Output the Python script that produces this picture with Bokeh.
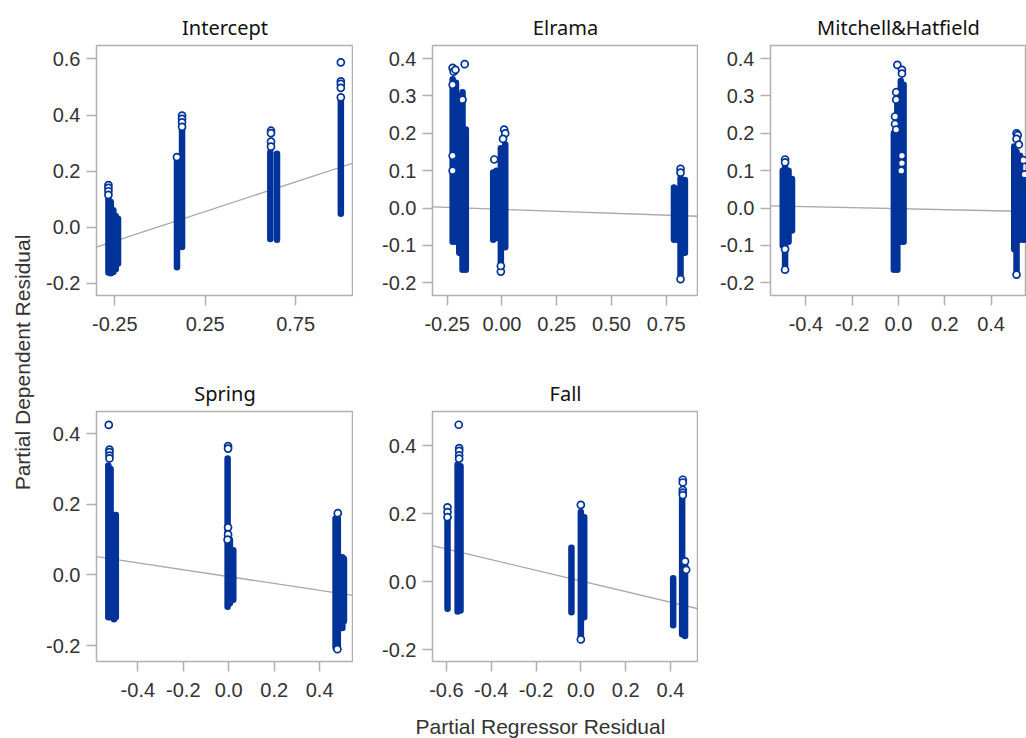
import numpy as np
from bokeh.plotting import figure
from bokeh.layouts import row, column
from bokeh.models import Range1d, FixedTicker
from bokeh.core.properties import value
from bokeh.embed import file_html
from bokeh.resources import INLINE

# ---------------- data ----------------
# Each panel: dense vertical strands of overlapping points (x, low end, high end),
# individually visible points, and the fitted partial-regression line.

intercept_strand_x = [-0.285, -0.272, -0.258, -0.245, -0.232, 0.094, 0.122, 0.610, 0.647, 1.000]
intercept_strand_lo = [-0.162, -0.165, -0.160, -0.150, -0.130, -0.143, -0.071, -0.042, -0.045, 0.048]
intercept_strand_hi = [0.100, 0.090, 0.060, 0.040, 0.030, 0.244, 0.350, 0.267, 0.262, 0.452]
intercept_pts_x = [-0.285, -0.285, -0.285, -0.285, 0.122, 0.122, 0.122, 0.122, 0.094, 0.614, 0.614, 0.614, 0.614, 1.000, 1.000, 1.000, 1.000, 1.000]
intercept_pts_y = [0.150, 0.140, 0.128, 0.115, 0.398, 0.386, 0.374, 0.358, 0.250, 0.344, 0.335, 0.305, 0.287, 0.588, 0.520, 0.511, 0.497, 0.463]
intercept_fit_x = [-0.351, 1.070]
intercept_fit_y = [-0.071, 0.229]
intercept_xticks = [-0.25, 0.25, 0.75]
intercept_xlabels = ["-0.25", "0.25", "0.75"]
intercept_yticks = [-0.2, 0.0, 0.2, 0.4, 0.6]
intercept_ylabels = ["-0.2", "0.0", "0.2", "0.4", "0.6"]

elrama_strand_x = [-0.225, -0.210, -0.195, -0.180, -0.165, -0.040, -0.025, -0.005, 0.015, 0.785, 0.800, 0.815, 0.835]
elrama_strand_lo = [-0.090, -0.090, -0.120, -0.165, -0.165, -0.085, -0.080, -0.150, -0.105, -0.085, -0.085, -0.180, -0.120]
elrama_strand_hi = [0.345, 0.335, 0.300, 0.310, 0.210, 0.095, 0.100, 0.160, 0.170, 0.055, 0.050, 0.080, 0.075]
elrama_pts_x = [-0.225, -0.220, -0.212, -0.170, -0.225, -0.180, -0.225, -0.225, -0.035, 0.010, 0.015, 0.005, -0.005, -0.005, 0.815, 0.815, 0.815]
elrama_pts_y = [0.375, 0.365, 0.370, 0.385, 0.330, 0.290, 0.140, 0.100, 0.130, 0.210, 0.200, 0.185, -0.170, -0.155, 0.105, 0.095, -0.190]
elrama_fit_x = [-0.317, 0.897]
elrama_fit_y = [0.003, -0.022]
elrama_xticks = [-0.25, 0.0, 0.25, 0.5, 0.75]
elrama_xlabels = ["-0.25", "0.00", "0.25", "0.50", "0.75"]
elrama_yticks = [-0.2, -0.1, 0.0, 0.1, 0.2, 0.3, 0.4]
elrama_ylabels = ["-0.2", "-0.1", "0.0", "0.1", "0.2", "0.3", "0.4"]

mitchell_strand_x = [-0.500, -0.490, -0.475, -0.460, -0.020, -0.005, 0.010, 0.022, 0.500, 0.510, 0.525, 0.540]
mitchell_strand_lo = [-0.100, -0.160, -0.090, -0.060, -0.165, -0.165, -0.090, -0.090, -0.110, -0.175, -0.085, -0.085]
mitchell_strand_hi = [0.100, 0.110, 0.100, 0.078, 0.200, 0.300, 0.340, 0.330, 0.165, 0.150, 0.140, 0.090]
mitchell_pts_x = [-0.490, -0.490, -0.490, -0.490, -0.005, 0.015, 0.015, -0.010, -0.010, -0.015, -0.015, -0.010, 0.015, 0.015, 0.012, 0.510, 0.515, 0.510, 0.520, 0.540, 0.545, 0.510]
mitchell_pts_y = [0.130, 0.122, -0.165, -0.110, 0.383, 0.370, 0.360, 0.310, 0.290, 0.245, 0.225, 0.210, 0.140, 0.120, 0.100, 0.200, 0.195, 0.185, 0.170, 0.128, 0.090, -0.178]
mitchell_fit_x = [-0.553, 0.553]
mitchell_fit_y = [0.006, -0.009]
mitchell_xticks = [-0.4, -0.2, 0.0, 0.2, 0.4]
mitchell_xlabels = ["-0.4", "-0.2", "0.0", "0.2", "0.4"]
mitchell_yticks = [-0.2, -0.1, 0.0, 0.1, 0.2, 0.3, 0.4]
mitchell_ylabels = ["-0.2", "-0.1", "0.0", "0.1", "0.2", "0.3", "0.4"]

spring_strand_x = [-0.530, -0.520, -0.505, -0.497, -0.005, 0.005, 0.020, 0.470, 0.480, 0.500, 0.507]
spring_strand_lo = [-0.120, -0.120, -0.125, -0.120, -0.090, -0.080, -0.070, -0.205, -0.210, -0.150, -0.130]
spring_strand_hi = [0.310, 0.300, 0.170, 0.170, 0.330, 0.100, 0.070, 0.160, 0.160, 0.050, 0.045]
spring_pts_x = [-0.528, -0.525, -0.525, -0.525, -0.525, -0.003, -0.003, -0.003, -0.003, -0.005, 0.480, 0.478]
spring_pts_y = [0.425, 0.355, 0.348, 0.338, 0.330, 0.365, 0.358, 0.135, 0.115, 0.100, 0.175, -0.210]
spring_fit_x = [-0.582, 0.549]
spring_fit_y = [0.052, -0.058]
spring_xticks = [-0.4, -0.2, 0.0, 0.2, 0.4]
spring_xlabels = ["-0.4", "-0.2", "0.0", "0.2", "0.4"]
spring_yticks = [-0.2, 0.0, 0.2, 0.4]
spring_ylabels = ["-0.2", "0.0", "0.2", "0.4"]

fall_strand_x = [-0.595, -0.550, -0.537, -0.042, 0.000, 0.015, 0.412, 0.452, 0.465]
fall_strand_lo = [-0.080, -0.088, -0.085, -0.090, -0.168, -0.105, -0.128, -0.155, -0.160]
fall_strand_hi = [0.205, 0.345, 0.340, 0.100, 0.205, 0.190, 0.010, 0.245, 0.050]
fall_pts_x = [-0.595, -0.595, -0.595, -0.545, -0.543, -0.543, -0.543, -0.543, 0.000, 0.000, 0.455, 0.455, 0.455, 0.455, 0.455, 0.465, 0.470]
fall_pts_y = [0.219, 0.205, 0.190, 0.462, 0.393, 0.385, 0.372, 0.362, 0.226, -0.170, 0.300, 0.292, 0.270, 0.262, 0.255, 0.060, 0.035]
fall_fit_x = [-0.662, 0.525]
fall_fit_y = [0.106, -0.080]
fall_xticks = [-0.6, -0.4, -0.2, 0.0, 0.2, 0.4]
fall_xlabels = ["-0.6", "-0.4", "-0.2", "0.0", "0.2", "0.4"]
fall_yticks = [-0.2, 0.0, 0.2, 0.4]
fall_ylabels = ["-0.2", "0.0", "0.2", "0.4"]

panel_titles = ["Intercept", "Elrama", "Mitchell&Hatfield", "Spring", "Fall"]
y_axis_title = "Partial Dependent Residual"
x_axis_title = "Partial Regressor Residual"

# ---------------- styling ----------------
BLUE = "#00339a"
FIT = "#a8a8a8"
FRAME = "#b0b0b0"
TICKTXT = "#333333"


def panel(title, xr, yr, sx, slo, shi, px, py, fx, fy, xt, xl, yt, yl,
          left, fw, right, top, fh, bottom):
    p = figure(width=left + fw + right, height=top + fh + bottom,
               x_range=Range1d(*xr), y_range=Range1d(*yr),
               output_backend="svg", toolbar_location=None,
               min_border_left=left, min_border_right=right,
               min_border_top=top, min_border_bottom=bottom, title=title)
    p.line(fx, fy, line_color=FIT, line_width=1.3)
    p.segment(x0=sx, y0=slo, x1=sx, y1=shi, line_color=BLUE, line_width=6.5, line_cap="round")
    p.scatter(px, py, marker="circle", size=7, fill_color="white", fill_alpha=1.0,
              line_color=BLUE, line_width=1.7)
    p.xaxis.ticker = FixedTicker(ticks=xt)
    p.xaxis.major_label_overrides = dict(zip(xt, xl))
    p.yaxis.ticker = FixedTicker(ticks=yt)
    p.yaxis.major_label_overrides = dict(zip(yt, yl))
    for ax in (p.xaxis[0], p.yaxis[0]):
        ax.axis_line_color = None
        ax.major_tick_line_color = FRAME
        ax.major_tick_line_width = 1.5
        ax.major_tick_out = 10
        ax.major_tick_in = 0
        ax.minor_tick_line_color = None
        ax.major_label_text_font = "Liberation Sans"
        ax.major_label_text_font_size = "20px"
        ax.major_label_text_color = TICKTXT
    p.xaxis.major_label_standoff = 11
    p.yaxis.major_label_standoff = 6
    p.grid.visible = False
    p.outline_line_color = FRAME
    p.outline_line_width = 1.5
    p.background_fill_color = "white"
    p.border_fill_color = "white"
    p.title.align = "center"
    p.title.text_font = "Noto Sans"
    p.title.text_font_size = "20px"
    p.title.text_font_style = "normal"
    p.title.text_color = "#111111"
    return p


p1 = panel(panel_titles[0], (-0.351, 1.070), (-0.244, 0.648),
           intercept_strand_x, intercept_strand_lo, intercept_strand_hi,
           intercept_pts_x, intercept_pts_y, intercept_fit_x, intercept_fit_y,
           intercept_xticks, intercept_xlabels, intercept_yticks, intercept_ylabels,
           56, 257, 0, 45, 250, 50)
p2 = panel(panel_titles[1], (-0.317, 0.897), (-0.234, 0.435),
           elrama_strand_x, elrama_strand_lo, elrama_strand_hi,
           elrama_pts_x, elrama_pts_y, elrama_fit_x, elrama_fit_y,
           elrama_xticks, elrama_xlabels, elrama_yticks, elrama_ylabels,
           79, 266, 0, 45, 250, 50)
p3 = panel(panel_titles[2], (-0.553, 0.553), (-0.234, 0.435),
           mitchell_strand_x, mitchell_strand_lo, mitchell_strand_hi,
           mitchell_pts_x, mitchell_pts_y, mitchell_fit_x, mitchell_fit_y,
           mitchell_xticks, mitchell_xlabels, mitchell_yticks, mitchell_ylabels,
           72, 256, 0, 45, 250, 50)
p4 = panel(panel_titles[3], (-0.582, 0.549), (-0.245, 0.463),
           spring_strand_x, spring_strand_lo, spring_strand_hi,
           spring_pts_x, spring_pts_y, spring_fit_x, spring_fit_y,
           spring_xticks, spring_xlabels, spring_yticks, spring_ylabels,
           56, 257, 0, 66, 250, 45)
p5 = panel(panel_titles[4], (-0.662, 0.525), (-0.235, 0.501),
           fall_strand_x, fall_strand_lo, fall_strand_hi,
           fall_pts_x, fall_pts_y, fall_fit_x, fall_fit_y,
           fall_xticks, fall_xlabels, fall_yticks, fall_ylabels,
           79, 266, 0, 66, 250, 45)


def label_fig(w, h):
    f = figure(width=w, height=h, x_range=Range1d(0, w), y_range=Range1d(0, h),
               output_backend="svg", toolbar_location=None, min_border=0,
               x_axis_location=None, y_axis_location=None)
    f.grid.visible = False
    f.outline_line_color = None
    f.background_fill_color = "white"
    f.border_fill_color = "white"
    return f


ylab = label_fig(40, 738)
ylab.text(x=[22], y=[376], text=[y_axis_title], angle=np.pi / 2,
          text_align="center", text_baseline="middle",
          text_font=value("Liberation Sans"), text_font_size=value("21px"),
          text_color=TICKTXT)

xlab = label_fig(986, 32)
xlab.text(x=[500], y=[12], text=[x_axis_title],
          text_align="center", text_baseline="alphabetic",
          text_font=value("Liberation Sans"), text_font_size=value("21px"),
          text_color=TICKTXT)

layout = row(ylab, column(row(p1, p2, p3), row(p4, p5), xlab))

open("out.html", "w").write(file_html(layout, INLINE))
